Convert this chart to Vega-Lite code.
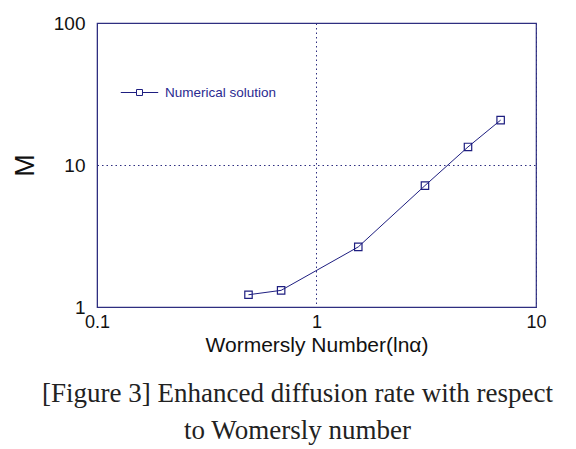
{
  "$schema": "https://vega.github.io/schema/vega-lite/v6.json",
  "width": 439,
  "height": 284,
  "autosize": "none",
  "padding": {"left": 97, "top": 23, "right": 40, "bottom": 142},
  "background": "white",
  "config": {
    "view": {"stroke": "#2e2e80", "strokeWidth": 1.2},
    "font": "Liberation Sans"
  },
  "title": {
    "text": ["[Figure 3] Enhanced diffusion rate with respect", "to Womersly number"],
    "orient": "bottom",
    "anchor": "middle",
    "frame": "group",
    "dx": -19,
    "offset": 26,
    "font": "Liberation Serif",
    "fontSize": 27,
    "fontWeight": "normal",
    "color": "#222222",
    "lineHeight": 37
  },
  "data": {
    "values": [
      {"x": 0.49, "M": 1.22, "series": "Numerical solution"},
      {"x": 0.69, "M": 1.31, "series": "Numerical solution"},
      {"x": 1.55, "M": 2.65, "series": "Numerical solution"},
      {"x": 3.12, "M": 7.16, "series": "Numerical solution"},
      {"x": 4.9, "M": 13.4, "series": "Numerical solution"},
      {"x": 6.9, "M": 20.7, "series": "Numerical solution"}
    ]
  },
  "mark": {
    "type": "line",
    "strokeWidth": 1,
    "point": {"shape": "square", "filled": false, "size": 55, "strokeWidth": 1.2, "color": "#1e1e80"}
  },
  "encoding": {
    "x": {
      "field": "x",
      "type": "quantitative",
      "scale": {"type": "log", "domain": [0.1, 10], "nice": false},
      "axis": {
        "values": [0.1, 1, 10],
        "format": "~g",
        "title": "Wormersly Number(lnα)",
        "titleFontSize": 21,
        "titleFontWeight": "normal",
        "titleColor": "#111111",
        "titlePadding": 3,
        "labelFontSize": 18,
        "labelColor": "#111111",
        "labelPadding": 6,
        "labelFlush": false,
        "ticks": false,
        "domainColor": "#2e2e80",
        "grid": true,
        "gridColor": "#2e2e80",
        "gridDash": [1.5, 3],
        "gridOpacity": 1
      }
    },
    "y": {
      "field": "M",
      "type": "quantitative",
      "scale": {"type": "log", "domain": [1, 100], "nice": false},
      "axis": {
        "values": [1, 10, 100],
        "format": "~g",
        "title": "M",
        "titleFontSize": 27,
        "titleFontWeight": "normal",
        "titleColor": "#111111",
        "titlePadding": 14,
        "labelFontSize": 19,
        "labelColor": "#111111",
        "labelPadding": 12,
        "labelFlush": false,
        "ticks": false,
        "domainColor": "#2e2e80",
        "grid": true,
        "gridColor": "#2e2e80",
        "gridDash": [1.5, 3],
        "gridOpacity": 1
      }
    },
    "color": {
      "field": "series",
      "type": "nominal",
      "scale": {"range": ["#1e1e80"]},
      "legend": {
        "title": null,
        "orient": "none",
        "legendX": 23,
        "legendY": 50,
        "padding": 0,
        "symbolType": "M-1,0H-0.16M0.16,0H1M-0.16,-0.16H0.16V0.16H-0.16Z",
        "symbolSize": 1400,
        "symbolStrokeWidth": 1,
        "symbolFillColor": "transparent",
        "symbolStrokeColor": "#1e1e80",
        "labelFontSize": 13.5,
        "labelColor": "#2a2a90",
        "labelOffset": 6
      }
    }
  }
}
